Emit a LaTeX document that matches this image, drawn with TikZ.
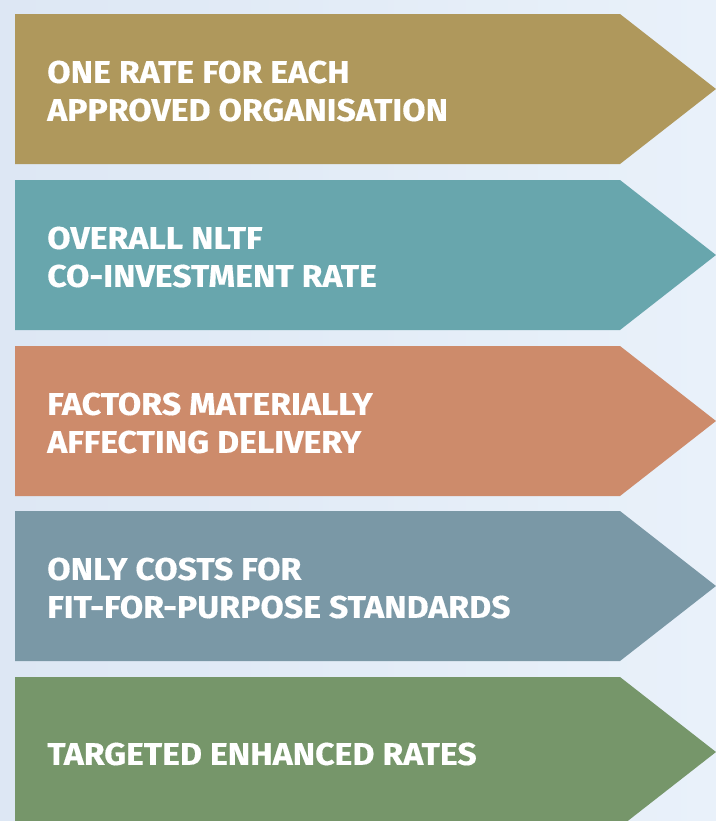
\documentclass[tikz,border=0pt]{standalone}
\usepackage{fontspec}
\setmainfont{Fira Sans}
\newfontfamily\labelfont{Fira Sans}[FakeStretch=1.08, FakeBold=0.4]
\usetikzlibrary{positioning}

\begin{document}
\begin{tikzpicture}
        [x=0.75pt, y=-0.75pt,
        % Styles
        arrow shape/.style={draw=none},
        label text/.style={anchor=west, align=left, inner sep=0pt, text=white,
                font=\labelfont\fontsize{23.5}{28.5}\selectfont\bfseries}]

        % Colors
        \definecolor{bgleft}{HTML}{DDE7F4}
        \definecolor{bgright}{HTML}{E9F1FA}
        \definecolor{goldcolor}{HTML}{AF985C}
        \definecolor{tealcolor}{HTML}{68A6AD}
        \definecolor{clavcolor}{HTML}{CD8B6B}
        \definecolor{slatecolor}{HTML}{7A98A6}
        \definecolor{sagecolor}{HTML}{76966A}

        % The graphic
        \useasboundingbox (0, 0) rectangle (716, 821);
        \clip (0, 0) rectangle (716, 821);
        \shade[left color=bgleft, right color=bgright] (0, 0) rectangle (716, 821);

        \foreach \i/\top/\col/\txt in {
                1/14/goldcolor/{ONE RATE FOR EACH\\APPROVED ORGANISATION},
                2/180/tealcolor/{OVERALL NLTF\\CO-INVESTMENT RATE},
                3/346/clavcolor/{FACTORS MATERIALLY\\AFFECTING DELIVERY},
                4/511/slatecolor/{ONLY COSTS FOR\\FIT-FOR-PURPOSE STANDARDS},
                5/677/sagecolor/{TARGETED ENHANCED RATES}}
        {
                \fill[arrow shape, \col] (15, \top) -- (620, \top) -- (716, \top + 75)
                        -- (620, \top + 150) -- (15, \top + 150) -- cycle;
                \node[label text] (label \i) at (47, \top + 77) {\txt};
        }
\end{tikzpicture}
\end{document}
